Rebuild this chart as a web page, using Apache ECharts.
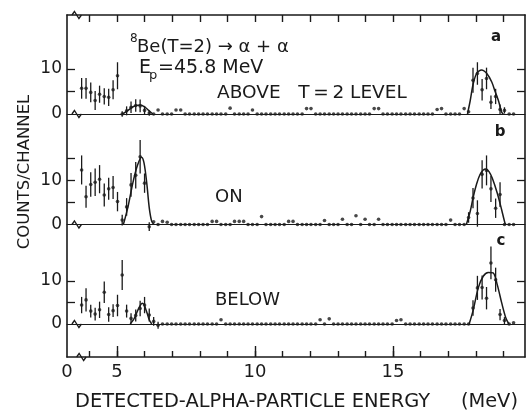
<!DOCTYPE html>
<html><head><meta charset="utf-8">
<script src="https://cdn.jsdelivr.net/npm/echarts@6/dist/echarts.min.js"></script>
<style>html,body{margin:0;padding:0;background:#fff}#c{width:526px;height:413px}</style>
</head><body><div id="c"></div>
<script>
// ---- data ----
const channelMeV = [
3.72,3.88,4.05,4.21,4.37,4.54,4.70,4.86,5.02,5.19,
5.35,5.51,5.68,5.84,6.00,6.17,6.33,6.49,6.65,6.82,
6.98,7.14,7.31,7.47,7.63,7.80,7.96,8.12,8.28,8.45,
8.61,8.77,8.94,9.10,9.26,9.43,9.59,9.75,9.91,10.08,
10.24,10.40,10.57,10.73,10.89,11.06,11.22,11.38,11.54,11.71,
11.87,12.03,12.20,12.36,12.52,12.69,12.85,13.01,13.17,13.34,
13.50,13.66,13.83,13.99,14.15,14.32,14.48,14.64,14.80,14.97,
15.13,15.29,15.46,15.62,15.78,15.95,16.11,16.27,16.43,16.60,
16.76,16.92,17.09,17.25,17.41,17.58,17.74,17.90,18.06,18.23,
18.39,18.55,18.72,18.88,19.04,19.21,19.37];

const countsA = [
5.7,5.7,4.8,3.0,4.4,3.9,3.7,5.4,8.5,0,
0.7,1.5,1.9,1.8,0.8,0.2,0,0.9,0,0,
0,0.9,0.9,0,0,0,0,0,0,0,
0,0,0,1.3,0,0,0,0,0.9,0,
0,0,0,0,0,0,0,0,0,0,
1.2,1.2,0,0,0,0,0,0,0,0,
0,0,0,0,0,1.2,1.2,0,0,0,
0,0,0,0,0,0,0,0,0,1.0,
1.2,0,0,0,0,1.2,0.5,7.5,9.0,5.4,
7.9,2.6,3.9,1.0,0.8,0,0];
const errA = [
2.3,2.3,2.2,2.1,1.9,1.8,1.9,2.1,3.0,0.6,
1.0,1.3,1.4,1.4,1.0,0.6,0,0,0,0,
0,0,0,0,0,0,0,0,0,0,
0,0,0,0,0,0,0,0,0,0,
0,0,0,0,0,0,0,0,0,0,
0,0,0,0,0,0,0,0,0,0,
0,0,0,0,0,0,0,0,0,0,
0,0,0,0,0,0,0,0,0,0,
0,0,0,0,0,0,0,2.8,2.5,2.4,
2.4,1.5,1.7,1.1,0.7,0,0];

const countsB = [
12.4,6.3,9.1,9.6,10.3,6.7,8.1,8.4,5.2,1.0,
4.0,9.0,11.2,15.4,9.4,-0.5,0.6,0,0.7,0.5,
0,0,0,0,0,0,0,0,0,0.7,
0.7,0,0,0,0.7,0.7,0.7,0,0,0,
1.8,0,0,0,0,0,0.7,0.7,0,0,
0,0,0,0,0.9,0,0,0,1.2,0,
0,2.0,0,1.2,0,0,1.2,0,0,0,
0,0,0,0,0,0,0,0,0,0,
0,0,1.0,0,0,0,1.6,6.0,2.5,11.4,
12.3,8.1,3.7,6.8,0,0,0];
const errB = [
3.3,2.5,2.8,3.1,3.2,2.6,2.5,2.6,2.2,1.2,
2.0,2.7,3.0,3.8,2.2,1.0,0,0,0,0,
0,0,0,0,0,0,0,0,0,0,
0,0,0,0,0,0,0,0,0,0,
0,0,0,0,0,0,0,0,0,0,
0,0,0,0,0,0,0,0,0,0,
0,0,0,0,0,0,0,0,0,0,
0,0,0,0,0,0,0,0,0,0,
0,0,0,0,0,0,1.2,2.3,3.0,3.2,
3.4,3.0,2.2,2.8,0,0,0];

const countsC = [
4.4,5.6,3.0,2.3,3.3,7.4,2.2,3.1,4.3,11.4,
3.0,1.3,2.0,3.6,4.4,2.1,0.6,-0.3,0,0,
0,0,0,0,0,0,0,0,0,0,
0,1.0,0,0,0,0,0,0,0,0,
0,0,0,0,0,0,0,0,0,0,
0,0,0,1.0,0,1.2,0,0,0,0,
0,0,0,0,0,0,0,0,0,0,
0.8,1.0,0,0,0,0,0,0,0,0,
0,0,0,0,0,0,0,3.7,8.4,8.5,
6.0,14.2,10.3,2.2,0.8,0,0.3];
const errC = [
1.9,2.7,1.5,1.5,1.9,2.5,1.7,1.5,2.5,3.5,
1.5,1.2,1.4,1.8,1.9,1.5,1.0,0.8,0,0,
0,0,0,0,0,0,0,0,0,0,
0,0,0,0,0,0,0,0,0,0,
0,0,0,0,0,0,0,0,0,0,
0,0,0,0,0,0,0,0,0,0,
0,0,0,0,0,0,0,0,0,0,
0,0,0,0,0,0,0,0,0,0,
0,0,0,0,0,0,0,1.8,2.8,2.8,
2.6,3.8,2.8,1.3,0.8,0,0];

// fitted curves [MeV, counts]
const fitA = [
 [[5.2,0],[5.4,0.8],[5.55,1.5],[5.7,1.9],[5.85,2.0],[6.0,1.6],[6.15,0.8],[6.3,0]],
 [[17.70,0],[17.80,3.0],[17.90,6.5],[18.03,9.0],[18.21,9.8],[18.40,9.0],[18.58,7.1],[18.70,5.0],[18.82,3.0],[18.94,0.4],[19.00,0]]
];
const fitB = [
 [[5.22,0],[5.25,0.4],[5.41,4.3],[5.57,9.3],[5.74,13.4],[5.89,15.3],[5.98,14.0],[6.08,9.4],[6.17,3.8],[6.26,0.7],[6.34,0]],
 [[17.66,0],[17.8,3.0],[17.91,6.3],[18.03,9.2],[18.15,11.3],[18.27,12.4],[18.37,12.6],[18.48,12.0],[18.6,10.5],[18.78,7.1],[18.94,3.3],[19.06,0.3],[19.1,0]]
];
const fitC = [
 [[5.48,0],[5.6,1.0],[5.69,2.2],[5.8,3.8],[5.92,4.8],[6.0,4.3],[6.05,3.3],[6.12,2.0],[6.17,1.0],[6.26,0]],
 [[17.76,0],[17.91,3.3],[18.09,8.4],[18.27,11.1],[18.45,12.0],[18.63,11.9],[18.78,9.1],[18.94,4.9],[19.09,1.4],[19.2,0]]
];

// axis ticks / labels
const xTickMeV = [4,5,6,7,8,9,10,11,12,13,14,15,16,17,18,19];
const xMajorMeV = [5,10,15];
const xLabelMeV = [3.19,5,10,15];
const xLabelText = ['0','5','10','15'];
const yLabelCounts = [0,10];
const yTicksA = [5,10];
const yTicksB = [5,10,15];
const yTicksC = [5,10];

// ---- chart ----
const INK = '#1a1a1a';
const FONT = 'DejaVu Sans';
const X_MIN = 3.19, X_MAX = 19.784;
const chart = echarts.init(document.getElementById('c'), null, {renderer:'canvas'});

const grids = [
  {left:67, right:1, top:15, bottom:56},
  {left:67, right:1, top:24, bottom:299},
  {left:67, right:1, top:136.5, bottom:188.5},
  {left:67, right:1, top:238, bottom:89}
];

function labelFor(v){
  for (let i=0;i<xLabelMeV.length;i++) if (Math.abs(xLabelMeV[i]-v)<1e-6) return xLabelText[i];
  return '';
}

const xAxes = [
  {type:'value', gridIndex:0, position:'bottom', min:X_MIN, max:X_MAX,
   axisLine:{show:true, lineStyle:{color:INK, width:1.6}},
   axisTick:{show:true, inside:true, length:6, customValues:xTickMeV, lineStyle:{color:INK, width:1.4}},
   axisLabel:{show:true, customValues:xLabelMeV, formatter:labelFor, margin:6, fontSize:18, color:INK, fontFamily:FONT},
   splitLine:{show:false}},
  {type:'value', gridIndex:0, position:'bottom', min:X_MIN, max:X_MAX,
   axisLine:{show:false},
   axisTick:{show:true, inside:true, length:11, customValues:xMajorMeV, lineStyle:{color:INK, width:1.4}},
   axisLabel:{show:false}, splitLine:{show:false}},
  {type:'value', gridIndex:0, position:'top', min:X_MIN, max:X_MAX,
   axisLine:{show:true, lineStyle:{color:INK, width:1.6}},
   axisTick:{show:true, inside:true, length:7, customValues:xTickMeV, lineStyle:{color:INK, width:1.4}},
   axisLabel:{show:false}, splitLine:{show:false}}
];
const yAxes = [
  {type:'value', gridIndex:0, position:'left', min:0, max:1,
   axisLine:{show:true, lineStyle:{color:INK, width:1.6}}, axisTick:{show:false}, axisLabel:{show:false}, splitLine:{show:false}},
  {type:'value', gridIndex:0, position:'right', min:0, max:1,
   axisLine:{show:true, lineStyle:{color:INK, width:1.6}}, axisTick:{show:false}, axisLabel:{show:false}, splitLine:{show:false}}
];
const panelTicks = [yTicksA, yTicksB, yTicksC];
for (let k=0;k<3;k++){
  xAxes.push({type:'value', gridIndex:k+1, min:X_MIN, max:X_MAX,
    axisLine:{show:true, onZero:true, lineStyle:{color:INK, width:1}},
    axisTick:{show:false}, axisLabel:{show:false}, splitLine:{show:false}});
  yAxes.push({type:'value', gridIndex:k+1, position:'left', min:0, max:20,
    axisLine:{show:false},
    axisTick:{show:true, inside:true, length:8, customValues:panelTicks[k], lineStyle:{color:INK, width:1.3}},
    axisLabel:{show:true, customValues:yLabelCounts, margin:5, fontSize:17, color:INK, fontFamily:FONT},
    splitLine:{show:false}});
  yAxes.push({type:'value', gridIndex:k+1, position:'right', min:0, max:20,
    axisLine:{show:false},
    axisTick:{show:true, inside:true, length:8, customValues:panelTicks[k], lineStyle:{color:INK, width:1.3}},
    axisLabel:{show:false}, splitLine:{show:false}});
}

function panelSeries(k, counts, errs, fits){
  const xi = 3 + k, yi = 2 + 2*k;
  const pts = channelMeV.map((e,i)=>[e, counts[i]]);
  const bars = channelMeV.map((e,i)=>[e, counts[i], errs[i]]).filter(d=>d[2]>0);
  const s = [
    {type:'custom', xAxisIndex:xi, yAxisIndex:yi, data:bars, clip:false, silent:true,
     encode:{x:0, y:1},
     renderItem:(params, api)=>{
       const e = api.value(0), v = api.value(1), r = api.value(2);
       const p1 = api.coord([e, v-r]), p2 = api.coord([e, v+r]);
       return {type:'line', shape:{x1:p1[0], y1:p1[1], x2:p2[0], y2:p2[1]},
               style:{stroke:INK, lineWidth:1.3}};
     }},
    {type:'scatter', xAxisIndex:xi, yAxisIndex:yi, data:pts, symbol:'circle', symbolSize:3.6,
     itemStyle:{color:INK}, clip:false, silent:true}
  ];
  fits.forEach(f=>s.push({type:'line', xAxisIndex:xi, yAxisIndex:yi, data:f, smooth:0.3,
     showSymbol:false, lineStyle:{color:INK, width:1.5}, clip:false, silent:true}));
  return s;
}

const series = [].concat(
  panelSeries(0, countsA, errA, fitA),
  panelSeries(1, countsB, errB, fitB),
  panelSeries(2, countsC, errC, fitC)
);

const txt = (id, x, y, text, size, extra) => Object.assign({
  type:'text', id:id, x:x, y:y, silent:true,
  style:Object.assign({text:text, fontSize:size, fontFamily:FONT, fill:INK, textVerticalAlign:'middle', textAlign:'left'}, extra||{})
});

const texts = [
  txt('t8', 130, 39, '8', 12),
  txt('t1', 137, 47, 'Be(T=2) \u2192 \u03b1 + \u03b1', 18),
  txt('tE', 139, 68, 'E', 19),
  txt('tp', 149, 76, 'p', 13),
  txt('tEp', 158, 68, '=45.8 MeV', 19),
  txt('tab', 217, 93, 'ABOVE   T\u2009=\u20092 LEVEL', 18.5),
  txt('ton', 215, 197, 'ON', 18),
  txt('tbe', 215, 300, 'BELOW', 18),
  txt('la', 496, 37, 'a', 15, {textAlign:'center', fontWeight:'bold'}),
  txt('lb', 500, 132, 'b', 15, {textAlign:'center', fontWeight:'bold'}),
  txt('lc', 501, 241, 'c', 15, {textAlign:'center', fontWeight:'bold'}),
  txt('xt', 75, 402, 'DETECTED-ALPHA-PARTICLE ENERGY     (MeV)', 19.4),
  {type:'text', id:'yt', x:25, y:172, rotation:Math.PI/2, silent:true,
   style:{text:'COUNTS/CHANNEL', fontSize:16.5, fontFamily:FONT, fill:INK, textAlign:'center', textVerticalAlign:'middle'}}
];

chart.setOption({
  animation:false,
  backgroundColor:'#fff',
  grid:grids,
  xAxis:xAxes,
  yAxis:yAxes,
  series:series,
  graphic:texts
});

// axis-break zigzags
function zigAt(id, p){
  return {type:'group', id:id, x:p[0], y:p[1], silent:true, children:[
    {type:'rect', shape:{x:-4, y:-2.2, width:8, height:4.4}, style:{fill:'#fff'}},
    {type:'polyline', shape:{points:[[-5,0],[-2.5,-3.5],[2,3.5],[4.5,0]]}, style:{stroke:INK, lineWidth:1.3, fill:null}}
  ]};
}
const zigs = [
  zigAt('z0', chart.convertToPixel({gridIndex:0}, [3.55, 1])),
  zigAt('z1', chart.convertToPixel({gridIndex:0}, [3.72, 0])),
  zigAt('z2', chart.convertToPixel({gridIndex:1}, [3.55, 0])),
  zigAt('z3', chart.convertToPixel({gridIndex:2}, [3.55, 0])),
  zigAt('z4', chart.convertToPixel({gridIndex:3}, [3.55, 0]))
];
chart.setOption({graphic: texts.concat(zigs)});
</script>
</body></html>
